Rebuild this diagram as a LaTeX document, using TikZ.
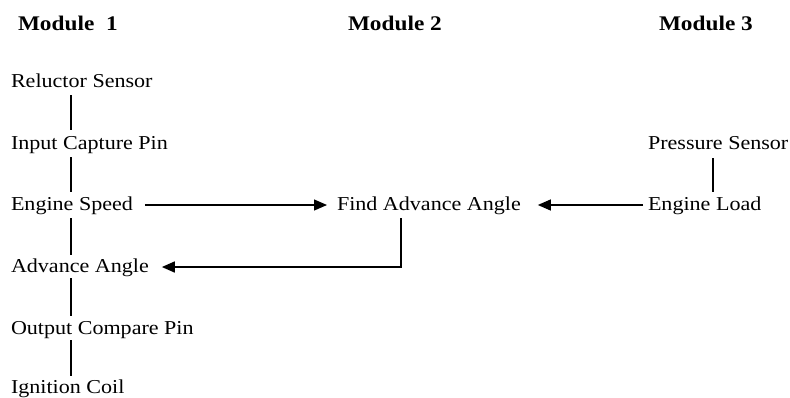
\documentclass[tikz,border=0pt]{standalone}
\usepackage{fontspec}
\setmainfont[FakeStretch=1.12]{Liberation Serif}
\usetikzlibrary{arrows.meta}
\begin{document}
\begin{tikzpicture}[x=1pt,y=-1pt,
  lbl/.style={anchor=base west,inner sep=0pt,outer sep=0pt,font=\fontsize{19.7}{23}\selectfont},
  ttl/.style={anchor=base west,inner sep=0pt,outer sep=0pt,font=\fontsize{20.8}{25}\selectfont\bfseries},
  vline/.style={line width=2.5pt},
  arr/.style={line width=1.3pt,-{Triangle[length=13pt,width=11pt]}},
  arrb/.style={line width=1.7pt,-{Triangle[length=13pt,width=11pt]}}]
\useasboundingbox (0,0) rectangle (790,397);
% titles
\node[ttl] (m1) at (18,30) {Module\ \ 1};
\node[ttl] (m2) at (348,30) {Module 2};
\node[ttl] (m3) at (659,30) {Module 3};
% module 1 column
\node[lbl] (rs) at (11,87) {Reluctor Sensor};
\node[lbl] (ic) at (11,149) {Input Capture Pin};
\node[lbl] (es) at (11,210) {Engine Speed};
\node[lbl] (aa) at (11,272) {Advance Angle};
\node[lbl] (oc) at (11,334) {Output Compare Pin};
\node[lbl] (ig) at (11,393) {Ignition Coil};
% module 2
\node[lbl] (fa) at (337,210) {Find Advance Angle};
% module 3
\node[lbl] (ps) at (648,149) {Pressure Sensor};
\node[lbl] (el) at (648,210) {Engine Load};
% vertical links
\draw[vline] ([xshift=60pt,yshift=-8pt]rs.base west) -- ([xshift=60pt,yshift=19pt]ic.base west);
\draw[vline] ([xshift=60pt,yshift=-8pt]ic.base west) -- ([xshift=60pt,yshift=18pt]es.base west);
\draw[vline] ([xshift=60pt,yshift=-8pt]es.base west) -- ([xshift=60pt,yshift=17pt]aa.base west);
\draw[vline] ([xshift=60pt,yshift=-6pt]aa.base west) -- ([xshift=60pt,yshift=18pt]oc.base west);
\draw[vline] ([xshift=60pt,yshift=-6pt]oc.base west) -- ([xshift=60pt,yshift=17pt]ig.base west);
\draw[vline] ([xshift=65pt,yshift=-9pt]ps.base west) -- ([xshift=65pt,yshift=18pt]el.base west);
% arrows
\draw[arr] ([xshift=12pt,yshift=5pt]es.base east) -- ([xshift=-10pt,yshift=5pt]fa.base west);
\draw[arr] ([xshift=-5pt,yshift=5pt]el.base west) -- ([xshift=17pt,yshift=5pt]fa.base east);
\draw[arrb] ([xshift=64pt,yshift=-8pt]fa.base west) |- ([xshift=13pt,yshift=5pt]aa.base east);
\end{tikzpicture}
\end{document}
